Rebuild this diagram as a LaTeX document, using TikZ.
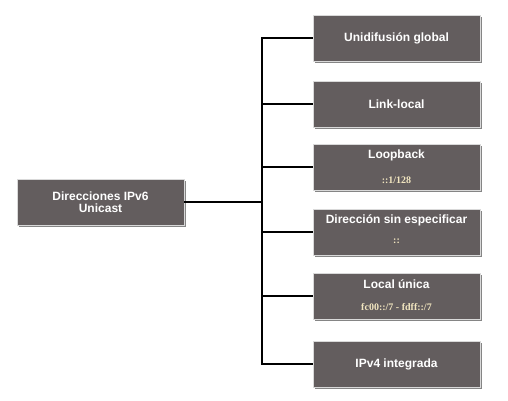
\documentclass[tikz,border=0pt]{standalone}
\usepackage{fontspec}
\setmainfont{Liberation Sans}
\newfontfamily\subfont{Liberation Serif}
\usetikzlibrary{shadows}
\definecolor{boxfill}{HTML}{635D5E}
\definecolor{subcol}{HTML}{F2E6C0}
\tikzset{
  box/.style={draw=white!85!black, line width=0.8pt, fill=boxfill, minimum width=167pt, minimum height=46pt,
    inner sep=0pt, text=white, font=\fontsize{12}{13}\selectfont\bfseries,
    drop shadow={shadow xshift=2pt, shadow yshift=-2pt, fill=black!60, opacity=0.8}},
  title/.style={text=white, font=\fontsize{12}{13}\selectfont\bfseries, inner sep=0pt},
  sub/.style={text=subcol, font=\subfont\fontsize{10}{11}\selectfont\bfseries, inner sep=0pt},
  conn/.style={line width=2pt, black}
}
\begin{document}
\begin{tikzpicture}[x=1pt,y=-1pt]
\useasboundingbox (0,0) rectangle (508,401);
\node[box, align=center, font=\fontsize{12}{12.5}\selectfont\bfseries] (root) at (100.5,202) {Direcciones IPv6\\Unicast};
\node[box] (b1) at (396.5,38) {Unidifusión global};
\node[box] (b2) at (396.5,104) {Link-local};
\node[box] (b3) at (396.5,167) {};
\node[box] (b4) at (396.5,232) {};
\node[box] (b5) at (396.5,296) {};
\node[box] (b6) at (396.5,364) {IPv4 integrada};
\node[title] (t3) at ([yshift=-12pt]b3.north) {Loopback};
\node[sub] (s3) at ([yshift=10pt]b3.south) {::1/128};
\node[title] (t4) at ([yshift=-12pt]b4.north) {Dirección sin especificar};
\node[sub] (s4) at ([yshift=14pt]b4.south) {::};
\node[title] (t5) at ([yshift=-12pt]b5.north) {Local única};
\node[sub] (s5) at ([yshift=-34pt]b5.north) {fc00::/7 - fdff::/7};
\coordinate (j) at (262,202);
\draw[conn] (root.east) -- (j);
\draw[conn] (b1.west) -| (j) |- (b6.west);
\foreach \b in {b2,b3,b4,b5}{
  \draw[conn] (\b.west) -- (\b.west -| j);
}
\end{tikzpicture}
\end{document}
